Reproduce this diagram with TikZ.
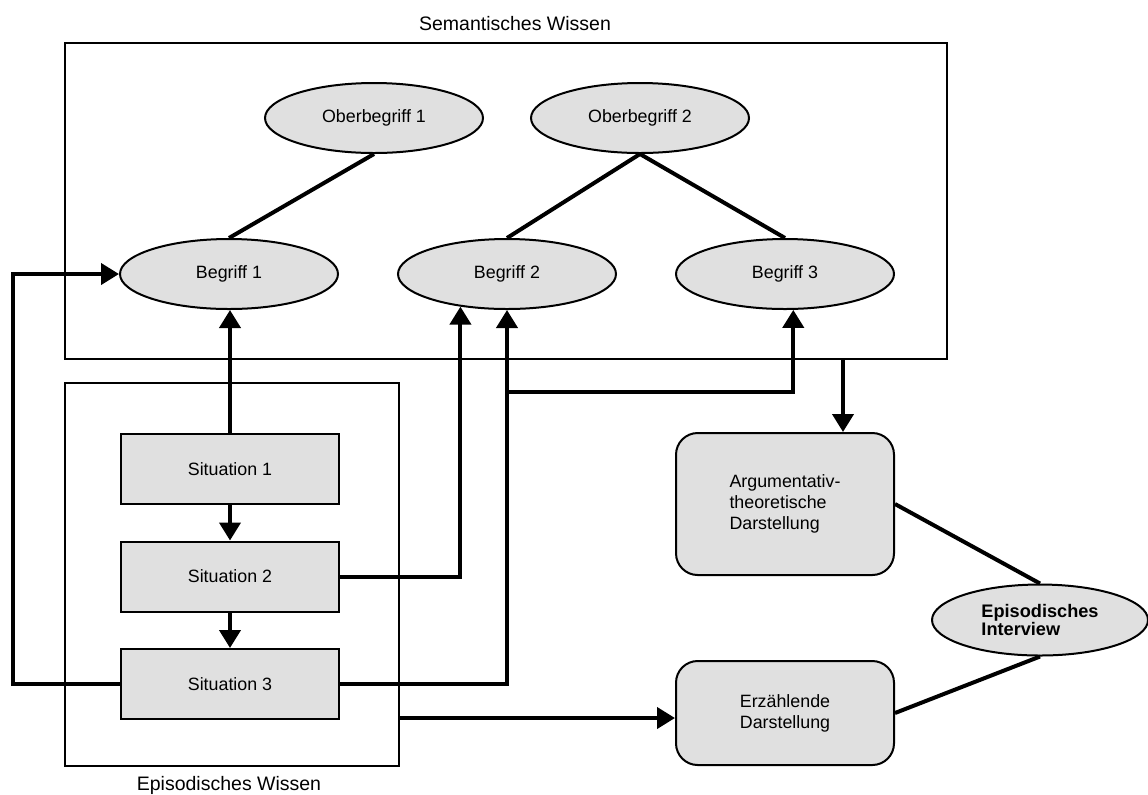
\documentclass[tikz,border=0pt]{standalone}
\usepackage{fontspec}
\setmainfont{Liberation Sans}
\usetikzlibrary{arrows.meta,shapes.geometric}
\definecolor{NodeGray}{RGB}{224,224,224}
\tikzset{
  concept/.style={ellipse,draw,fill=NodeGray,line width=1.2pt,
    minimum width=130.8pt,minimum height=42pt,inner sep=0pt,
    font=\fontsize{10.7}{12.6}\selectfont},
  situation/.style={rectangle,draw,fill=NodeGray,line width=1.2pt,
    minimum width=130.8pt,minimum height=42pt,
    font=\fontsize{10.7}{12.6}\selectfont},
  form/.style={rectangle,rounded corners=13pt,draw,fill=NodeGray,
    line width=1.2pt,minimum width=130.8pt,align=left,
    font=\fontsize{10.7}{12.6}\selectfont},
  memory/.style={rectangle,draw,line width=1pt,inner sep=0pt},
  caption/.style={anchor=base,font=\fontsize{11.7}{13}\selectfont},
  link/.style={line width=2.4pt},
  arrow/.style={-{Triangle[length=10.8pt,width=12.6pt]},line width=2.4pt}
}

\begin{document}
\begin{tikzpicture}[x=0.6pt,y=-0.6pt]
  \useasboundingbox (0,0) rectangle (1148,794);
  % Semantisches Wissen
  \node[memory,minimum width=529.2pt,minimum height=189.6pt] (sem) at (506,201) {};
  \node[caption] (semlabel) at (515,30) {Semantisches Wissen};
  \node[concept] (ob1) at (374,118) {Oberbegriff 1};
  \node[concept] (ob2) at (640,118) {Oberbegriff 2};
  \node[concept] (b1) at (229,274) {Begriff 1};
  \node[concept] (b2) at (507,274) {Begriff 2};
  \node[concept] (b3) at (785,274) {Begriff 3};
  % Episodisches Wissen
  \node[memory,minimum width=200.4pt,minimum height=229.8pt] (epi) at (232,574.5) {};
  \node[caption] (epilabel) at (229,790) {Episodisches Wissen};
  \node[situation] (s1) at (230,469) {Situation 1};
  \node[situation] (s2) at (230,576.5) {Situation 2};
  \node[situation] (s3) at (230,684) {Situation 3};
  % Darstellungen
  \node[form,minimum height=85.2pt] (arg) at (785,504)
    {Argumentativ-\\theoretische\\Darstellung};
  \node[form,minimum height=62.4pt] (erz) at (785,713)
    {Erzählende\\Darstellung};
  \node[concept,minimum width=129.6pt,minimum height=42.6pt,align=left,
    font=\fontsize{10.9}{10.4}\selectfont\bfseries] (int) at (1040,620)
    {Episodisches\\Interview};
  % helper points
  \coordinate (lp) at (13,0);
  \coordinate (br) at (b2.south |- 0,392);
  \coordinate (argin) at ([xshift=34.8pt]arg.north);
  % Hierarchie
  \draw[link] (ob1.south) -- (b1.north);
  \draw[link] (ob2.south) -- (b2.north);
  \draw[link] (ob2.south) -- (b3.north);
  % Situationen -> Begriffe
  \draw[arrow] (s1.north) -- (s1.north |- b1.south);
  \draw[arrow] (s1) -- (s2);
  \draw[arrow] (s2) -- (s3);
  \draw[arrow] (s3.west) -- (s3.west -| lp) |- (b1.west);
  \draw[arrow] (s2.east) -| (b2.215);
  \draw[arrow] (s3.east) -| (b2.south);
  \draw[arrow] (br) -| (b3.283);
  % Wissen -> Darstellung
  \draw[arrow] (sem.south -| argin) -- (argin);
  \draw[arrow] (epi.east |- 0,718) -- (erz.west |- 0,718);
  \draw[link] (arg.east) -- (int.north);
  \draw[link] (erz.east) -- (int.south);
\end{tikzpicture}
\end{document}
